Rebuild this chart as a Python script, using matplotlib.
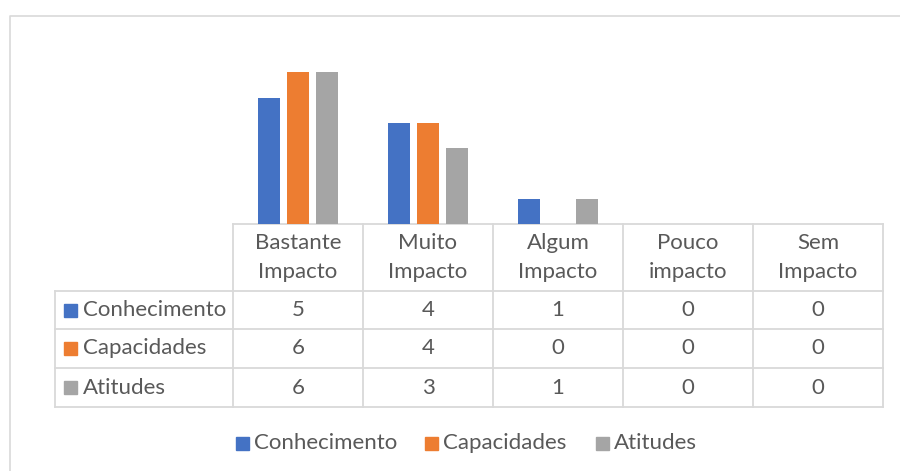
import matplotlib.pyplot as plt
import numpy as np

plt.rcParams['font.family'] = ['Lato', 'DejaVu Sans']

categories = ['Bastante\nImpacto', 'Muito\nImpacto', 'Algum\nImpacto', 'Pouco\nimpacto', 'Sem\nImpacto']
series_names = ['Conhecimento', 'Capacidades', 'Atitudes']
conhecimento = [5, 4, 1, 0, 0]
capacidades = [6, 4, 0, 0, 0]
atitudes = [6, 3, 1, 0, 0]
series_values = [conhecimento, capacidades, atitudes]
colors = ['#4472C4', '#ED7D31', '#A5A5A5']

W, H = 900, 471
text_color = '#595959'
grid_color = '#D9D9D9'
fs = 16

fig = plt.figure(figsize=(W / 100, H / 100), dpi=100)

# overlay axes in pixel coordinates for table, legend and border
ov = fig.add_axes([0, 0, 1, 1])
ov.set_xlim(0, W)
ov.set_ylim(H, 0)
ov.axis('off')

# chart area border (left and top visible)
ov.plot([10, 10, W], [H, 16, 16], color=grid_color, lw=1.2)

# plot area for bars
x_left, x_right = 233, 883
y_base, y_top = 224, 47
ax = fig.add_axes([x_left / W, 1 - y_base / H, (x_right - x_left) / W, (y_base - y_top) / H])
ax.set_xlim(-0.5, len(categories) - 0.5)
ax.set_ylim(0, 7)
ax.axis('off')
ax.patch.set_alpha(0)

x = np.arange(len(categories))
bar_w = 0.17
spacing = 0.223
for i, (vals, c) in enumerate(zip(series_values, colors)):
    ax.bar(x + (i - 1) * spacing, vals, width=bar_w, color=c, zorder=3)

# data table
col_w = (x_right - x_left) / len(categories)
col_edges = [x_left + k * col_w for k in range(len(categories) + 1)]
row_edges = [224, 291, 329, 368, 407]
label_left = 55

lw = 1.3
ov.plot([x_left, x_right], [row_edges[0]] * 2, color=grid_color, lw=lw)
for ye in row_edges[1:]:
    ov.plot([label_left, x_right], [ye, ye], color=grid_color, lw=lw)
ov.plot([label_left, label_left], [row_edges[1], row_edges[-1]], color=grid_color, lw=lw)
for xe in col_edges:
    ov.plot([xe, xe], [row_edges[0], row_edges[-1]], color=grid_color, lw=lw)

# header
for k, cat in enumerate(categories):
    cx = (col_edges[k] + col_edges[k + 1]) / 2
    cy = (row_edges[0] + row_edges[1]) / 2
    ov.text(cx, cy, cat, ha='center', va='center', fontsize=fs, color=text_color,
            linespacing=1.6)

# rows
key = 13
for r, (name, vals, c) in enumerate(zip(series_names, series_values, colors)):
    cy = (row_edges[r + 1] + row_edges[r + 2]) / 2
    ov.add_patch(plt.Rectangle((64, cy - key / 2), key, key, color=c))
    ov.text(83, cy, name, ha='left', va='center', fontsize=fs, color=text_color)
    for k, v in enumerate(vals):
        cx = (col_edges[k] + col_edges[k + 1]) / 2
        ov.text(cx, cy, str(v), ha='center', va='center', fontsize=fs, color=text_color)

# legend
leg_y = 443
leg_x = [236, 425, 596]
for lx, name, c in zip(leg_x, series_names, colors):
    ov.add_patch(plt.Rectangle((lx, leg_y - key / 2), key, key, color=c))
    ov.text(lx + 18, leg_y, name, ha='left', va='center', fontsize=fs, color=text_color)

fig.savefig('out.png', dpi=100)
